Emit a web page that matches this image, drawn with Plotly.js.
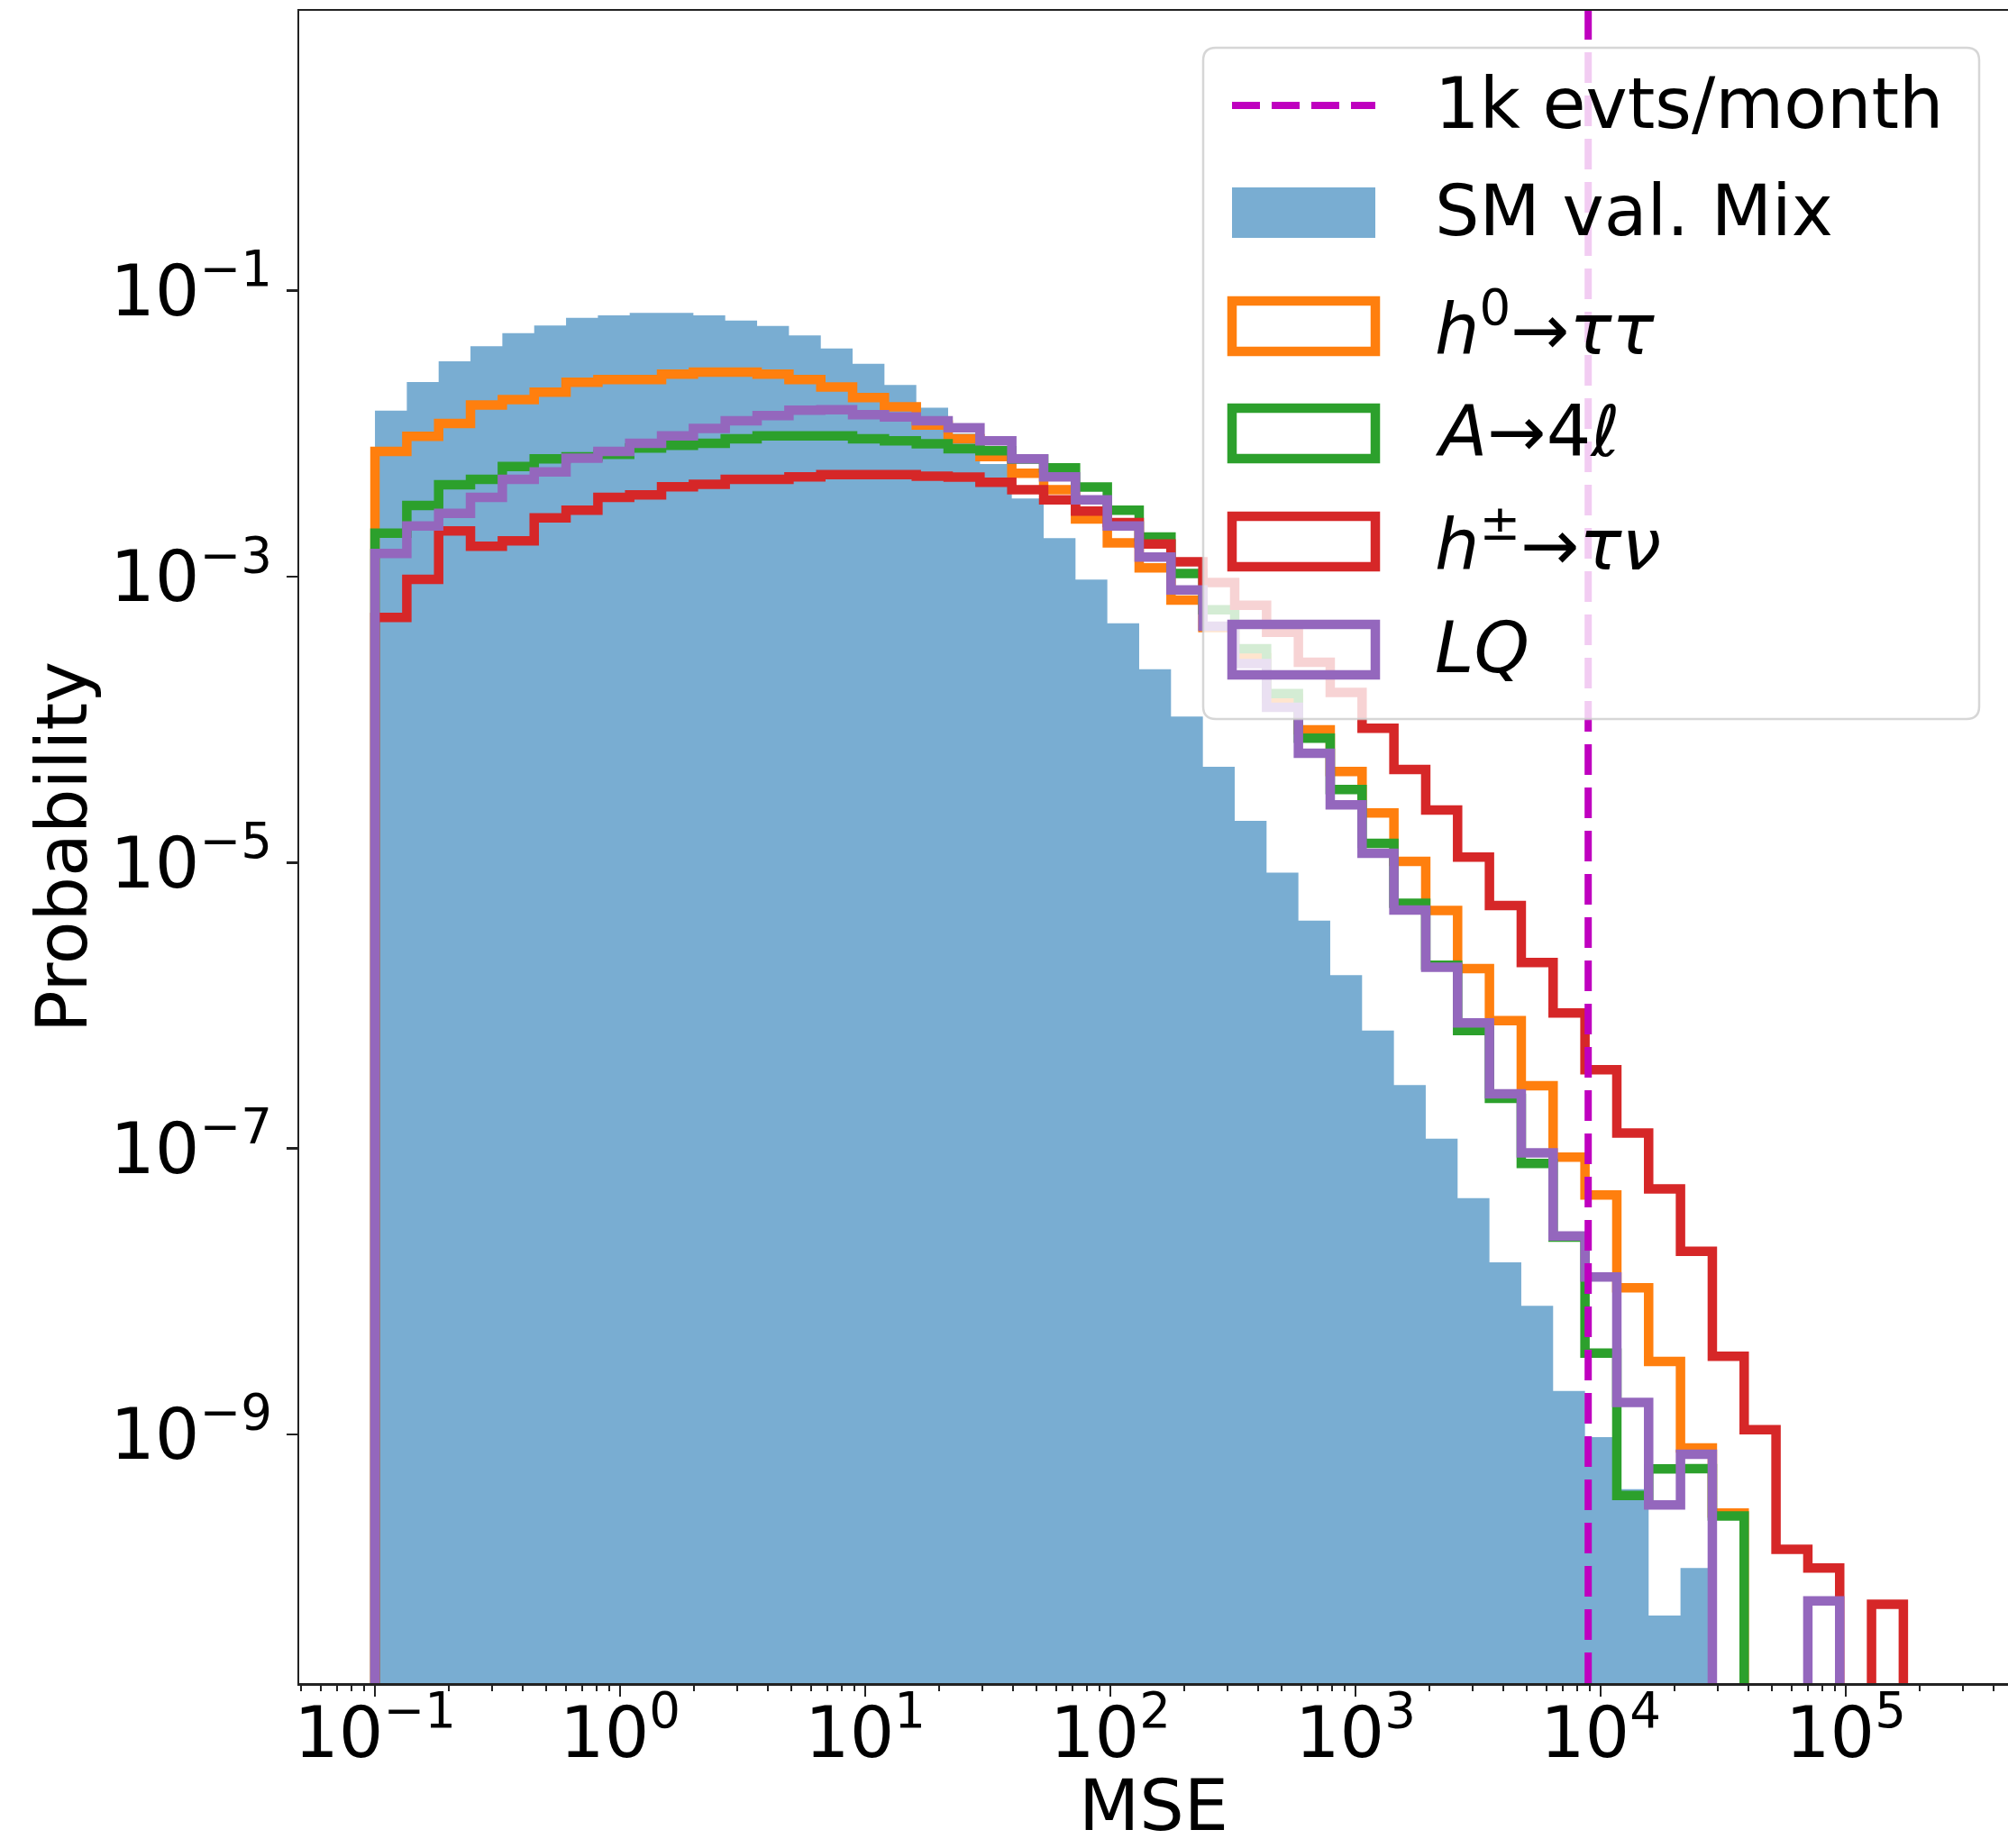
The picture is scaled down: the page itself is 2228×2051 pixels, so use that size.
<!DOCTYPE html>
<html>
<head>
<meta charset="utf-8">
<script src="https://cdn.plot.ly/plotly-3.0.1.min.js"></script>
<style>
  html, body { margin: 0; padding: 0; background: #ffffff; overflow: hidden; }
  #chart { width: 2228px; height: 2051px; }
</style>
</head>
<body>
<div id="chart"></div>
<script>
// ---------------- data ----------------
// common logarithmic bin edges of the MSE histograms
const binEdges = [0.1, 0.1349, 0.1819, 0.2453, 0.3309, 0.4463, 0.6019, 0.8118, 1.0945, 1.476,
  1.991, 2.685, 3.622, 4.885, 6.589, 8.882, 11.98, 16.16, 21.79, 29.39,
  39.63, 53.45, 72.09, 97.21, 131.1, 176.8, 238.5, 321.6, 433.8, 585.0,
  788.9, 1064, 1435, 1935, 2610, 3520, 4747, 6402, 8636, 11647,
  15704, 21180, 28567, 38523, 51952, 70064, 94490, 127430, 171830];

// probability per bin (0 = empty bin)
const smValMix = [1.45e-2, 2.30e-2, 3.21e-2, 4.09e-2, 5.04e-2, 5.71e-2, 6.47e-2, 6.73e-2, 7.00e-2, 7.00e-2,
  6.73e-2, 6.19e-2, 5.68e-2, 4.86e-2, 3.95e-2, 3.08e-2, 2.19e-2, 1.52e-2, 1.00e-2, 6.14e-3,
  3.52e-3, 1.86e-3, 9.53e-4, 4.72e-4, 2.25e-4, 1.05e-4, 4.67e-5, 1.96e-5, 8.51e-6, 3.92e-6,
  1.63e-6, 6.67e-7, 2.78e-7, 1.17e-7, 4.49e-8, 1.60e-8, 7.94e-9, 2.01e-9, 9.55e-10, 4.14e-10,
  5.40e-11, 1.16e-10, 0, 0, 0, 0, 0, 0];

const h0TauTau = [7.52e-3, 9.57e-3, 1.18e-2, 1.585e-2, 1.73e-2, 1.95e-2, 2.29e-2, 2.39e-2, 2.39e-2, 2.61e-2,
  2.70e-2, 2.70e-2, 2.61e-2, 2.39e-2, 2.12e-2, 1.79e-2, 1.54e-2, 1.15e-2, 9.20e-3, 6.92e-3,
  5.28e-3, 4.06e-3, 2.53e-3, 1.72e-3, 1.15e-3, 6.85e-4, 4.40e-4, 2.71e-4, 1.41e-4, 8.49e-5,
  4.34e-5, 2.22e-5, 1.02e-5, 4.62e-6, 1.81e-6, 7.85e-7, 2.75e-7, 8.69e-8, 4.72e-8, 1.06e-8,
  3.24e-9, 8.04e-10, 2.82e-10, 0, 0, 0, 0, 0];

const aTo4l = [2.01e-3, 3.15e-3, 4.40e-3, 4.80e-3, 5.90e-3, 6.67e-3, 6.89e-3, 7.16e-3, 7.94e-3, 8.28e-3,
  8.57e-3, 9.20e-3, 9.66e-3, 9.66e-3, 9.66e-3, 9.20e-3, 8.91e-3, 8.49e-3, 7.85e-3, 7.60e-3,
  6.65e-3, 5.77e-3, 4.23e-3, 2.92e-3, 1.89e-3, 1.05e-3, 5.87e-4, 3.13e-4, 1.52e-4, 7.41e-5,
  3.24e-5, 1.36e-5, 5.19e-6, 1.91e-6, 6.67e-7, 2.24e-7, 7.85e-8, 2.40e-8, 3.70e-9, 3.74e-10,
  5.74e-10, 5.75e-10, 2.69e-10, 0, 0, 0, 0, 0];

const hPmTauNu = [5.18e-4, 9.57e-4, 2.09e-3, 1.63e-3, 1.78e-3, 2.58e-3, 2.92e-3, 3.59e-3, 3.73e-3, 4.25e-3,
  4.42e-3, 4.80e-3, 4.80e-3, 4.99e-3, 5.18e-3, 5.18e-3, 5.18e-3, 5.04e-3, 4.97e-3, 4.57e-3,
  4.06e-3, 3.45e-3, 2.87e-3, 2.39e-3, 1.69e-3, 1.27e-3, 9.08e-4, 6.31e-4, 4.08e-4, 2.52e-4,
  1.55e-4, 8.71e-5, 4.47e-5, 2.33e-5, 1.09e-5, 5.01e-6, 2.00e-6, 8.87e-7, 3.55e-7, 1.28e-7,
  5.22e-8, 1.91e-8, 3.52e-9, 1.08e-9, 1.57e-10, 1.16e-10, 0, 6.49e-11];

const leptoquark = [1.45e-3, 2.26e-3, 2.77e-3, 3.59e-3, 4.80e-3, 5.41e-3, 6.73e-3, 7.52e-3, 8.57e-3, 9.66e-3,
  1.09e-2, 1.23e-2, 1.34e-2, 1.46e-2, 1.47e-2, 1.36e-2, 1.31e-2, 1.23e-2, 1.10e-2, 8.91e-3,
  6.67e-3, 4.99e-3, 3.45e-3, 2.26e-3, 1.37e-3, 8.07e-4, 4.50e-4, 2.46e-4, 1.22e-4, 5.82e-5,
  2.53e-5, 1.16e-5, 4.65e-6, 1.85e-6, 7.55e-7, 2.41e-7, 9.33e-8, 2.44e-8, 1.26e-8, 1.67e-9,
  3.21e-10, 7.26e-10, 0, 0, 0, 6.84e-11, 0, 0];

const monthlyThreshold = 8900;   // "1k evts/month" MSE cut

const legendLabels = ['1k evts/month', 'SM val. Mix',
  '<i>h</i><sup>0</sup>→<i>ττ</i>', '<i>A</i>→4<i>ℓ</i>',
  '<i>h</i><sup>±</sup>→<i>τν</i>', '<i>LQ</i>'];

const xAxisTitle = 'MSE';
const yAxisTitle = 'Probability';
const xTickVals = [0.1, 1, 10, 100, 1000, 10000, 100000];
const xTickText = ['10<sup>−1</sup>', '10<sup>0</sup>', '10<sup>1</sup>', '10<sup>2</sup>',
  '10<sup>3</sup>', '10<sup>4</sup>', '10<sup>5</sup>'];
const yTickVals = [1e-1, 1e-3, 1e-5, 1e-7, 1e-9];
const yTickText = ['10<sup>−1</sup>', '10<sup>−3</sup>', '10<sup>−5</sup>', '10<sup>−7</sup>', '10<sup>−9</sup>'];

// ---------------- styling ----------------
const C_BLUE_FILL = 'rgba(31,119,180,0.6)';
const C_ORANGE = '#ff7f0e', C_GREEN = '#2ca02c', C_RED = '#d62728', C_PURPLE = '#9467bd';
const C_MAGENTA = '#bf00bf';
const FONT = 'DejaVu Sans, Liberation Sans, sans-serif';
const FS = 78;
const LW = 10.5;
const ZERO_FLOOR = 1e-14; // empty bins drop to the bottom of the log axis

// minor tick positions on the log x axis (2..9 × 10^k)
const xMinorTicks = [];
for (let k = -2; k <= 5; k++) {
  for (let m = 2; m <= 9; m++) xMinorTicks.push(m * Math.pow(10, k));
}

// outline of a histogram drawn like matplotlib histtype='step'
function stepOutline(vals) {
  const x = [binEdges[0]], y = [ZERO_FLOOR];
  for (let i = 0; i < vals.length; i++) {
    x.push(binEdges[i]);
    y.push(vals[i] > 0 ? vals[i] : ZERO_FLOOR);
  }
  const last = vals[vals.length - 1] > 0 ? vals[vals.length - 1] : ZERO_FLOOR;
  x.push(binEdges[vals.length]); y.push(last);
  x.push(binEdges[vals.length]); y.push(ZERO_FLOOR);
  return { x, y };
}

const smO = stepOutline(smValMix);
const traces = [
  { type: 'scatter', mode: 'lines', x: smO.x, y: smO.y, line: { shape: 'hv', width: 0, color: C_BLUE_FILL },
    fill: 'tozeroy', fillcolor: C_BLUE_FILL, name: 'SM val. Mix', hoverinfo: 'skip' }
];
const lineSeries = [[h0TauTau, C_ORANGE, 'h0→ττ'], [aTo4l, C_GREEN, 'A→4ℓ'],
  [hPmTauNu, C_RED, 'h±→τν'], [leptoquark, C_PURPLE, 'LQ']];
lineSeries.forEach(([vals, col, nm]) => {
  const o = stepOutline(vals);
  traces.push({ type: 'scatter', mode: 'lines', x: o.x, y: o.y, name: nm,
    line: { shape: 'hv', width: LW, color: col }, hoverinfo: 'skip' });
});

// ---------------- layout ----------------
const W = 2228, H = 2051;
const PL = 332, PT = 12, PB = 1868;            // plot area (px)
const PW = W - PL, PH = PB - PT;
const px2x = px => (px - PL) / PW;             // pixel -> paper
const px2y = py => (PB - py) / PH;

// hand-drawn legend (large handles like matplotlib)
const shapes = [];
shapes.push({ type: 'line', xref: 'x', yref: 'paper', x0: monthlyThreshold, x1: monthlyThreshold, y0: 0, y1: 1,
  line: { color: C_MAGENTA, width: 8, dash: '34px,14px' }, layer: 'above' });

function roundRect(x0, y0, x1, y1, r) {
  const X = px2x, Y = px2y;
  return `M${X(x0 + r)},${Y(y0)} L${X(x1 - r)},${Y(y0)} Q${X(x1)},${Y(y0)} ${X(x1)},${Y(y0 + r)} ` +
         `L${X(x1)},${Y(y1 - r)} Q${X(x1)},${Y(y1)} ${X(x1 - r)},${Y(y1)} ` +
         `L${X(x0 + r)},${Y(y1)} Q${X(x0)},${Y(y1)} ${X(x0)},${Y(y1 - r)} ` +
         `L${X(x0)},${Y(y0 + r)} Q${X(x0)},${Y(y0)} ${X(x0 + r)},${Y(y0)} Z`;
}
shapes.push({ type: 'path', xref: 'paper', yref: 'paper', path: roundRect(1335, 53, 2196, 798, 14),
  fillcolor: 'rgba(255,255,255,0.8)', line: { color: 'rgba(204,204,204,0.8)', width: 2.5 }, layer: 'above' });

const handleX0 = 1367, handleX1 = 1526;
const rowY = [117, 236, 362, 481, 601, 721];
const boxHalf = 28;
shapes.push({ type: 'line', xref: 'paper', yref: 'paper', x0: px2x(handleX0), x1: px2x(handleX1),
  y0: px2y(rowY[0]), y1: px2y(rowY[0]), line: { color: C_MAGENTA, width: 8, dash: '31px,13px' }, layer: 'above' });
shapes.push({ type: 'rect', xref: 'paper', yref: 'paper', x0: px2x(handleX0), x1: px2x(handleX1),
  y0: px2y(rowY[1] - boxHalf), y1: px2y(rowY[1] + boxHalf), fillcolor: C_BLUE_FILL, line: { width: 0 }, layer: 'above' });
[C_ORANGE, C_GREEN, C_RED, C_PURPLE].forEach((col, i) => {
  const cy = rowY[i + 2];
  shapes.push({ type: 'rect', xref: 'paper', yref: 'paper', x0: px2x(handleX0), x1: px2x(handleX1),
    y0: px2y(cy - boxHalf), y1: px2y(cy + boxHalf), fillcolor: 'rgba(0,0,0,0)',
    line: { color: col, width: LW }, layer: 'above' });
});

const annotations = legendLabels.map((t, i) => ({
  xref: 'paper', yref: 'paper', x: px2x(1590), y: px2y(rowY[i] - 2),
  xanchor: 'left', yanchor: 'middle', text: t, showarrow: false,
  font: { family: FONT, size: FS, color: '#000' }
}));
// x axis title placed like matplotlib's xlabel (close to the bottom edge)
annotations.push({
  xref: 'paper', yref: 'paper', x: 0.5, y: px2y(2004), xanchor: 'center', yanchor: 'middle',
  text: xAxisTitle, showarrow: false, font: { family: FONT, size: FS, color: '#000' }
});

const axisCommon = {
  type: 'log', showgrid: false, zeroline: false, showline: true, linecolor: '#222', linewidth: 2.5,
  ticks: 'outside', ticklen: 12, tickwidth: 2.5, tickcolor: '#222', tickmode: 'array',
  tickfont: { family: FONT, size: FS, color: '#000' }
};

const layout = {
  width: W, height: H,
  margin: { l: PL, r: 0, t: PT, b: H - PB, pad: 0 },
  paper_bgcolor: '#ffffff', plot_bgcolor: '#ffffff',
  showlegend: false,
  font: { family: FONT, size: FS, color: '#000' },
  xaxis: Object.assign({}, axisCommon, {
    range: [-1.309, 5.662], tickvals: xTickVals, ticktext: xTickText, mirror: true,
    ticklabelstandoff: -26,
    minor: { tickmode: 'array', tickvals: xMinorTicks, ticks: 'outside', ticklen: 6, tickwidth: 2, tickcolor: '#222', showgrid: false }
  }),
  yaxis: Object.assign({}, axisCommon, {
    range: [-10.74, 0.958], tickvals: yTickVals, ticktext: yTickText,
    title: { text: yAxisTitle, font: { family: FONT, size: FS, color: '#000' }, standoff: 0 }
  }),
  shapes: shapes,
  annotations: annotations
};

Plotly.newPlot('chart', traces, layout, { displayModeBar: false, staticPlot: true });
</script>
</body>
</html>
